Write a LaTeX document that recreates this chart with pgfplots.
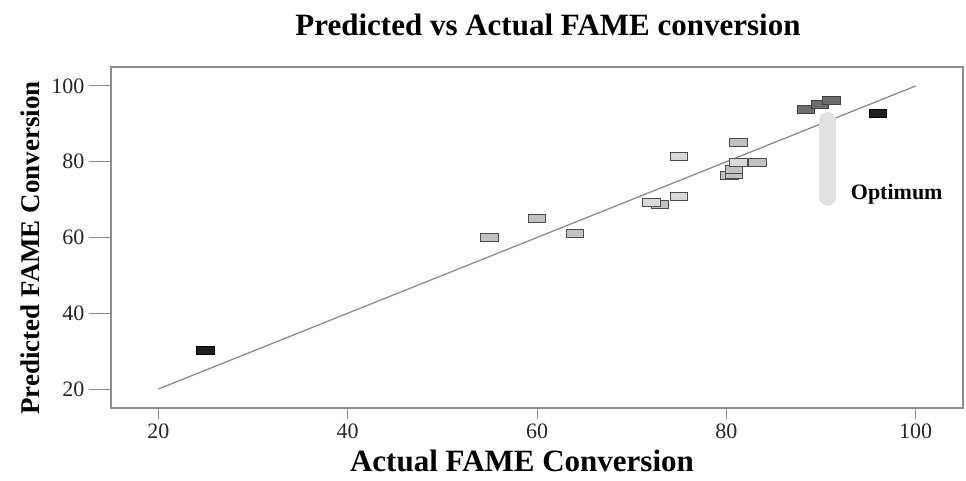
\documentclass[border=0pt]{standalone}
\usepackage{pgfplots}
\pgfplotsset{compat=1.18}
\usepackage{fontspec}
\setmainfont{Liberation Serif}
\definecolor{axisgray}{HTML}{8C8C8C}
\definecolor{lightfill}{HTML}{C2C2C2}
\definecolor{paleFill}{HTML}{DADADA}
\definecolor{darkfill}{HTML}{6E6E6E}
\definecolor{blackfill}{HTML}{1E1E1E}
\definecolor{optbar}{HTML}{E2E2E2}
\begin{document}
\begin{tikzpicture}
\path[use as bounding box] (-111pt,-73pt) rectangle (855pt,408pt);
\begin{axis}[
  at={(0pt,0pt)}, anchor=south west,
  scale only axis, width=852pt, height=341pt,
  xmin=15, xmax=105, ymin=15, ymax=105,
  xtick={20,40,60,80,100}, ytick={20,40,60,80,100},
  xtick pos=bottom, ytick pos=left,
  tick align=outside,
  major tick length=11pt,
  every tick/.style={axisgray, line width=1pt},
  y tick style={/pgfplots/major tick length=22pt},
  axis line style={axisgray, line width=1.2pt},
  tick label style={font=\fontsize{22}{24}\selectfont, text=black!85},
  /pgf/number format/assume math mode=true,
  xticklabel style={yshift=-1pt},
  yticklabel style={xshift=-12pt},
  clip=false,
]
% fitted line y = x
\addplot[axisgray, line width=1.3pt] coordinates {(20,20) (100,100)};
% optimum region marker
\draw[optbar, line width=17pt, line cap=round] (axis cs:90.7,90.9) -- (axis cs:90.7,70.6);
\node[font=\bfseries\fontsize{22}{24}\selectfont] at (axis cs:98.0,71.4) {Optimum};
% design runs
\addplot[only marks, mark=square*, mark size=4pt,
  mark options={xscale=2.2, fill=lightfill, draw=black!70, line width=0.9pt, rounded corners=1.2pt}]
  coordinates {
  (55,60) (60,65) (64,61) (73,68.7)
  (81.3,85.2) (80.3,76.3) (80.8,76.7) (80.8,78.0) (83.3,79.9)
  };
\addplot[only marks, mark=square*, mark size=4pt,
  mark options={xscale=2.2, fill=paleFill, draw=black!70, line width=0.9pt, rounded corners=1.2pt}]
  coordinates {(72.1,69.2) (75,70.9) (75,81.5) (81.3,79.9)};
\addplot[only marks, mark=square*, mark size=4pt,
  mark options={xscale=2.2, fill=darkfill, draw=black!75, line width=0.9pt, rounded corners=1.2pt}]
  coordinates {(88.4,93.8) (89.9,95.2) (91.1,96.3)};
\addplot[only marks, mark=square*, mark size=4pt,
  mark options={xscale=2.2, fill=blackfill, draw=black, line width=0.9pt, rounded corners=1.2pt}]
  coordinates {(25,30.1) (96,92.8)};
\end{axis}
\node[font=\bfseries\fontsize{31}{34}\selectfont] at (437pt,383pt) {Predicted vs Actual FAME conversion};
\node[font=\bfseries\fontsize{31}{34}\selectfont] at (411pt,-53pt) {Actual FAME Conversion};
\node[font=\bfseries\fontsize{27}{30}\selectfont, rotate=90] at (-81pt,160pt) {Predicted FAME Conversion};
\end{tikzpicture}
\end{document}
